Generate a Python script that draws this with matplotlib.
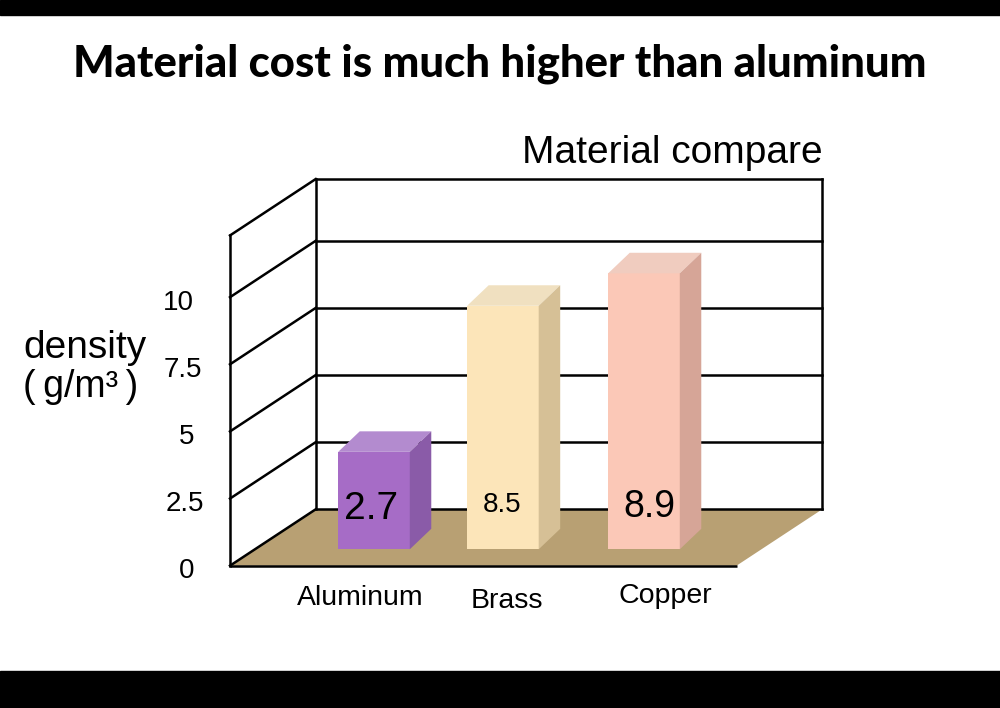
import matplotlib
matplotlib.use("Agg")
import matplotlib.pyplot as plt
from matplotlib.patches import Polygon, Rectangle
import numpy as np

# ---- data ----
categories = ["Aluminum", "Brass", "Copper"]
values = [2.7, 8.5, 8.9]                 # labels shown on the bars
drawn_heights = [3.63, 9.07, 10.28]      # bar heights as drawn in the picture (axis units)
yticks = [0, 2.5, 5, 7.5, 10]
ytick_labels = ["0", "2.5", "5", "7.5", "10"]
title = "Material cost is much higher than aluminum"
subtitle = "Material compare"
ylabel_1 = "density"
ylabel_2 = "(\u2009g/m³\u2009)"

# ---- style ----
front_colors = ["#a66cc6", "#fce5b9", "#fbc8b7"]
top_colors = ["#b38bcf", "#f0e0c0", "#f0ccbf"]
side_colors = ["#8a5ba8", "#d6c096", "#d6a597"]
floor_color = "#b8a073"
value_sizes = [28, 20, 27]
value_rows = [519, 511.5, 517]
bar_shift = [0.0, -0.045, 0.0]
value_dx = [-0.02, -0.01, 0.04]
cat_dx = [-0.10, 0.03, 0.16]
cat_dy = [-1.46, -1.57, -1.39]
tick_xpix = [187, 185, 187, 183, 178]

W, H = 1000, 708
PXX, PXY = 135.0, 26.85          # pixels per data unit
X0PIX, Y0ROW = 374.0, 565.7      # pixel of category 0 / value 0 row

fig = plt.figure(figsize=(W / 100, H / 100), dpi=100)
fig.patch.set_facecolor("white")
ax = fig.add_axes([0, 0, 1, 1])
ax.set_xlim(-X0PIX / PXX, (W - X0PIX) / PXX)
ax.set_ylim(-(H - Y0ROW) / PXY, Y0ROW / PXY)
ax.axis("off")

def px(xp):
    return (xp - X0PIX) / PXX

def py(row):
    return (Y0ROW - row) / PXY

# black bands
fig.patches.append(Rectangle((0, 1 - 15 / H), 1, 15 / H, transform=fig.transFigure, color="black", zorder=0))
fig.patches.append(Rectangle((0, 0), 1, (H - 671) / H, transform=fig.transFigure, color="black", zorder=0))

# ---- box geometry ----
FL, FR = px(230), px(736.5)
DX, DY = 85.7 / PXX, 56.4 / PXY
TOP = 12.3
lw = 1.8

floor = Polygon([(FL, 0), (FR, 0), (FR + DX, DY), (FL + DX, DY)], closed=True,
                facecolor=floor_color, edgecolor="none", zorder=1)
ax.add_patch(floor)
ax.plot([FL, FR], [0, 0], color="black", lw=lw, zorder=2, solid_capstyle="butt")

grid_levels = yticks + [TOP]
for v in grid_levels:
    # back wall
    ax.plot([FL + DX, FR + DX], [v + DY, v + DY], color="black", lw=lw, zorder=2)
    # left wall
    ax.plot([FL, FL + DX], [v, v + DY], color="black", lw=lw, zorder=2)
ax.plot([FL, FL], [0, TOP], color="black", lw=lw, zorder=2)
ax.plot([FL + DX, FL + DX], [DY, TOP + DY], color="black", lw=lw, zorder=2)
ax.plot([FR + DX, FR + DX], [DY, TOP + DY], color="black", lw=lw, zorder=2)

# ---- bars ----
x = np.arange(len(categories)) * 1.0 + np.array(bar_shift)
bw = 0.53
BASE = 16.4 / PXY
BDX, BDY = 21.5 / PXX, 20.5 / PXY
ax.bar(x, drawn_heights, width=bw, bottom=BASE, color=front_colors, zorder=3)
for i, (xi, h) in enumerate(zip(x, drawn_heights)):
    l, r, t = xi - bw / 2, xi + bw / 2, BASE + h
    ax.add_patch(Polygon([(l, t), (r, t), (r + BDX, t + BDY), (l + BDX, t + BDY)],
                         closed=True, facecolor=top_colors[i], edgecolor="none", zorder=3))
    ax.add_patch(Polygon([(r, BASE), (r + BDX, BASE + BDY), (r + BDX, t + BDY), (r, t)],
                         closed=True, facecolor=side_colors[i], edgecolor="none", zorder=3))
    ax.text(xi + value_dx[i], py(value_rows[i]),
            f"{values[i]}", ha="center", va="baseline", fontsize=value_sizes[i],
            family="Liberation Sans", color="black", zorder=5)
    ax.text(xi + cat_dx[i], cat_dy[i], categories[i], ha="center", va="baseline",
            fontsize=20.5, family="Liberation Sans", color="black", zorder=5)

# ---- y tick labels ----
for v, lab, xp in zip(yticks, ytick_labels, tick_xpix):
    ax.text(px(xp), v - 0.2, lab, ha="center", va="center", fontsize=20,
            family="Liberation Sans", color="black")

# ---- texts ----
ax.text(px(85), py(358), ylabel_1, ha="center", va="baseline", fontsize=28,
        family="Liberation Sans")
ax.text(px(81), py(397), ylabel_2, ha="center", va="baseline", fontsize=27,
        family=["Liberation Sans", "DejaVu Sans"])
ax.text(px(823), py(163.3), subtitle, ha="right", va="baseline", fontsize=28,
        family="Liberation Sans")
fig.text(0.5, 1 - 77 / H, title, ha="center", va="baseline", fontsize=31.5,
         family="Lato", fontweight="black")

fig.savefig("out.png", dpi=100, facecolor="white")
